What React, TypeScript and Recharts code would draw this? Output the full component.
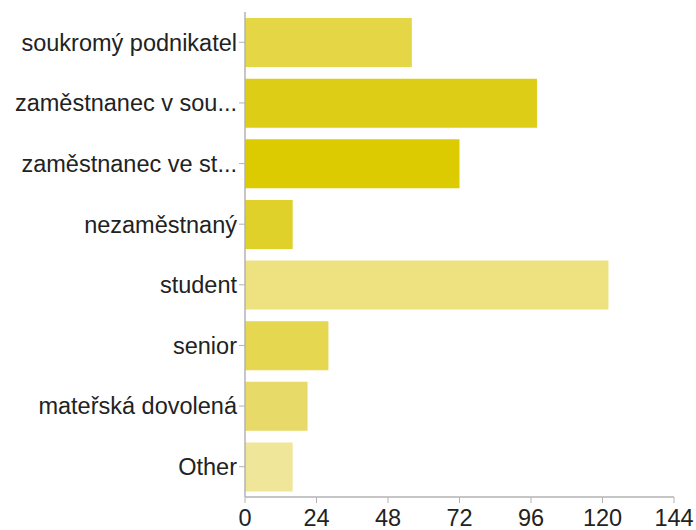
import { BarChart, Bar, XAxis, YAxis, Cell } from 'recharts';

const categories = [
  'soukromý podnikatel',
  'zaměstnanec v sou...',
  'zaměstnanec ve st...',
  'nezaměstnaný',
  'student',
  'senior',
  'mateřská dovolená',
  'Other',
];
const counts = [56, 98, 72, 16, 122, 28, 21, 16];
const barColors = ['#e4d644', '#ddcd17', '#dccb00', '#e0d02a', '#ede27f', '#e5d750', '#e7da68', '#efe69a'];
const xTicks = [0, 24, 48, 72, 96, 120, 144];

const data = categories.map((name, i) => ({ name, value: counts[i], color: barColors[i] }));

const axisColor = '#b3b3b3';
const textStyle = { fontSize: 23.5, fill: '#222', fontFamily: 'Liberation Sans, Arial, sans-serif' };

export default function App() {
  return (
    <div style={{ position: 'absolute', left: 0, top: 0, background: '#fff' }}>
      <BarChart
        width={696}
        height={530}
        data={data}
        layout="vertical"
        margin={{ top: 12, right: 22, bottom: 0, left: 0 }}
        barCategoryGap="10%"
      >
        <XAxis
          type="number"
          domain={[0, 144]}
          ticks={xTicks}
          interval={0}
          height={33}
          tick={textStyle}
          tickSize={6}
          tickMargin={6}
          stroke={axisColor}
          axisLine={{ stroke: axisColor, strokeWidth: 1.5 }}
          tickLine={{ stroke: axisColor }}
        />
        <YAxis
          type="category"
          dataKey="name"
          width={245}
          tick={textStyle}
          tickSize={6}
          tickMargin={2}
          axisLine={{ stroke: axisColor, strokeWidth: 1.5 }}
          tickLine={{ stroke: axisColor }}
        />
        <Bar dataKey="value" isAnimationActive={false}>
          {data.map((d, i) => (
            <Cell key={i} fill={d.color} />
          ))}
        </Bar>
      </BarChart>
    </div>
  );
}
